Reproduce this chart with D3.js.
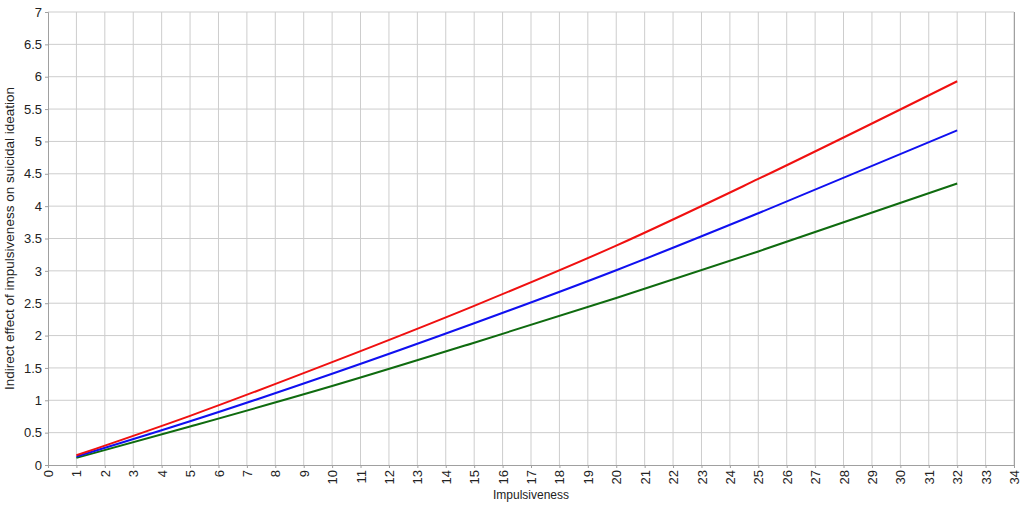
<!DOCTYPE html>
<html><head><meta charset="utf-8">
<script src="https://cdn.jsdelivr.net/npm/d3@7"></script>
<style>body{margin:0;background:#fff;}svg{display:block;font-family:Arial,"Liberation Sans",sans-serif;}</style>
</head><body><svg id="c" width="1021" height="507"></svg>
<script>
const xValues = [1, 5, 10, 15, 20, 25, 32];
const redValues = [0.15, 0.76, 1.59, 2.46, 3.39, 4.42, 5.93];
const blueValues = [0.13, 0.675, 1.41, 2.19, 3.01, 3.89, 5.17];
const greenValues = [0.11, 0.595, 1.22, 1.89, 2.58, 3.30, 4.35];
const xTicks = d3.range(0, 35);
const yTicks = [0,0.5,1,1.5,2,2.5,3,3.5,4,4.5,5,5.5,6,6.5,7];
const xTitle = "Impulsiveness";
const yTitle = "Indirect effect of impulsiveness on suicidal ideation";

const svg = d3.select("#c");
const m = {l:48, r:1014, t:12, b:465};
const x = d3.scaleLinear().domain([0,34]).range([m.l, m.r]);
const y = d3.scaleLinear().domain([0,7]).range([m.b, m.t]);

// grid
svg.append("g").selectAll("line").data(xTicks.slice(1)).join("line")
  .attr("x1", d=>x(d)).attr("x2", d=>x(d)).attr("y1", m.t).attr("y2", m.b)
  .attr("stroke", "#cdcdcd").attr("stroke-width", 1);
svg.append("g").selectAll("line").data(yTicks.slice(1)).join("line")
  .attr("x1", m.l).attr("x2", m.r).attr("y1", d=>y(d)).attr("y2", d=>y(d))
  .attr("stroke", "#cdcdcd").attr("stroke-width", 1);
// right border
svg.append("line").attr("x1", m.r+0.5).attr("x2", m.r+0.5).attr("y1", m.t).attr("y2", m.b)
  .attr("stroke", "#a0a0a0");

// axes
const yAxis = d3.axisLeft(y).tickValues(yTicks).tickSize(3).tickPadding(3).tickFormat(d=>d3.format("")(d));
const gy = svg.append("g").attr("transform", `translate(${m.l},0)`).call(yAxis);
gy.select(".domain").attr("stroke", "#a0a0a0");
gy.selectAll(".tick line").attr("stroke", "#a0a0a0");
gy.selectAll("text").attr("font-size", 13).attr("fill", "#222").attr("font-family","Arial,'Liberation Sans',sans-serif");

const xAxis = d3.axisBottom(x).tickValues(xTicks).tickSize(3).tickFormat(d3.format("d"));
const gx = svg.append("g").attr("transform", `translate(0,${m.b})`).call(xAxis);
gx.select(".domain").attr("stroke", "#a0a0a0");
gx.selectAll(".tick line").attr("stroke", "#a0a0a0");
gx.selectAll("text").attr("font-size", 13).attr("fill", "#222").attr("font-family","Arial,'Liberation Sans',sans-serif")
  .attr("transform", "rotate(-90)").attr("text-anchor", "end").attr("x", -5).attr("y", 0).attr("dy", "0.35em");

// lines
const series = [
  {vals: greenValues, color: "#0f6b0f"},
  {vals: blueValues, color: "#1010f0"},
  {vals: redValues, color: "#f01010"}
];
const line = d3.line().x((d,i)=>x(xValues[i])).y(d=>y(d)).curve(d3.curveMonotoneX);
svg.append("g").selectAll("path").data(series).join("path")
  .attr("d", d=>line(d.vals)).attr("fill","none").attr("stroke", d=>d.color).attr("stroke-width", 2);

// titles
svg.append("text").attr("x", (m.l+m.r)/2).attr("y", 499).attr("text-anchor","middle")
  .attr("font-size", 12).attr("fill","#222").text(xTitle);
svg.append("text").attr("transform", `translate(14,${(m.t+m.b)/2}) rotate(-90)`).attr("text-anchor","middle")
  .attr("font-size", 13.5).attr("fill","#222").text(yTitle);
</script></body></html>
